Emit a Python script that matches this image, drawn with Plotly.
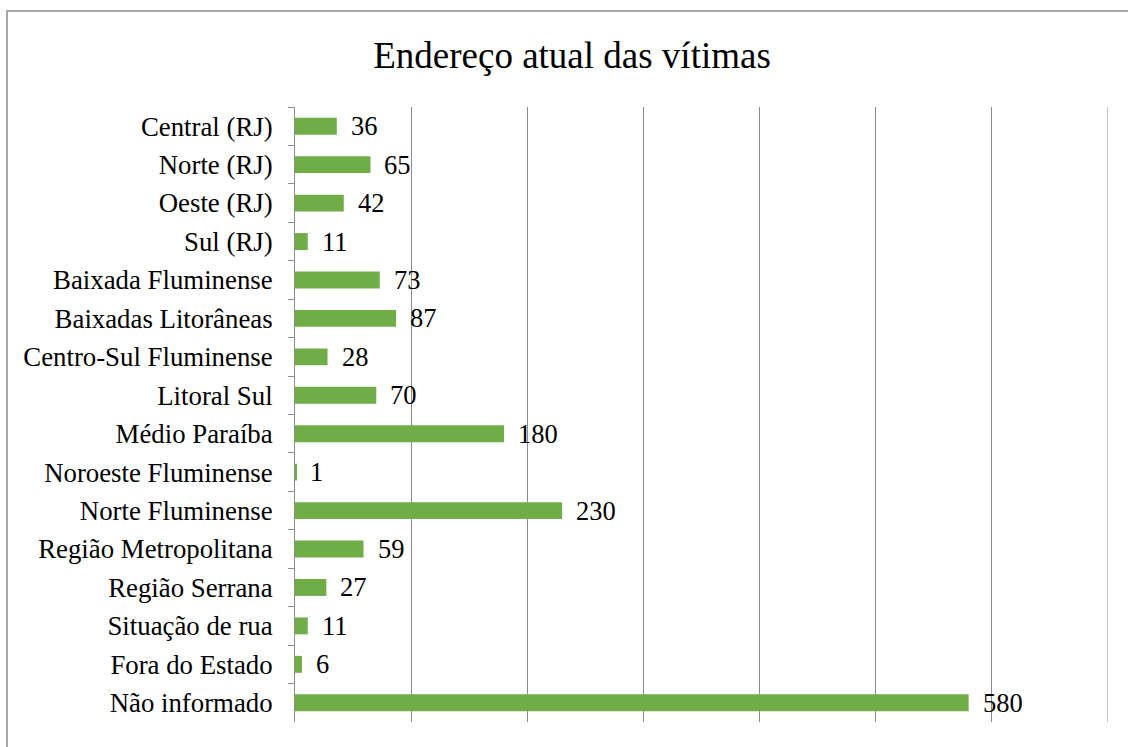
import plotly.graph_objects as go

categories = ["Central (RJ)", "Norte (RJ)", "Oeste (RJ)", "Sul (RJ)", "Baixada Fluminense",
              "Baixadas Litorâneas", "Centro-Sul Fluminense", "Litoral Sul", "Médio Paraíba",
              "Noroeste Fluminense", "Norte Fluminense", "Região Metropolitana", "Região Serrana",
              "Situação de rua", "Fora do Estado", "Não informado"]
values = [36, 65, 42, 11, 73, 87, 28, 70, 180, 1, 230, 59, 27, 11, 6, 580]
title_text = "Endereço atual das vítimas"
x_max = 700

FONT = "Liberation Serif"

fig = go.Figure()
fig.add_trace(go.Bar(
    y=categories, x=values, orientation="h",
    marker=dict(color="#70AD47", line=dict(width=0)),
    width=0.44, hoverinfo="x+y",
))

for c, v in zip(categories, values):
    fig.add_annotation(x=v, y=c, text=str(v), showarrow=False, xanchor="left",
                       yanchor="middle", xshift=12,
                       font=dict(family=FONT, size=26.5, color="black"))

# outer chart border
fig.add_shape(type="rect", xref="paper", yref="paper",
              x0=(7 - 295) / 813, x1=1.2, y0=-0.2, y1=(722 - 11) / 615,
              line=dict(color="#8c8c8c", width=1.5), fillcolor="rgba(0,0,0,0)", layer="below")
# last gridline at the range end
fig.add_shape(type="line", xref="x", yref="paper", x0=x_max, x1=x_max, y0=0, y1=1,
              line=dict(color="#8c8c8c", width=1), layer="below")

fig.update_layout(
    width=1128, height=747,
    margin=dict(l=295, r=20, t=107, b=25),
    paper_bgcolor="white", plot_bgcolor="white",
    title=dict(text=title_text, x=572 / 1128, xanchor="center", y=1 - 55 / 747, yanchor="middle",
               font=dict(family=FONT, size=37, color="black")),
    showlegend=False,
    font=dict(family=FONT, size=26, color="black"),
)
fig.update_xaxes(range=[0, x_max], dtick=100, showgrid=True, gridcolor="#8c8c8c", gridwidth=1,
                 showticklabels=False, zeroline=False, showline=False, ticks="")
fig.update_yaxes(autorange="reversed", showline=True, linecolor="#8c8c8c", linewidth=1,
                 ticks="outside", ticklen=6, tickcolor="#8c8c8c", tickson="boundaries",
                 ticklabelstandoff=16, showgrid=False, automargin=False,
                 tickfont=dict(family=FONT, size=26.8, color="black"))

fig.write_html("out.html", config={"displayModeBar": False},
               post_script="document.body.style.margin='0';document.body.style.overflow='hidden';")
